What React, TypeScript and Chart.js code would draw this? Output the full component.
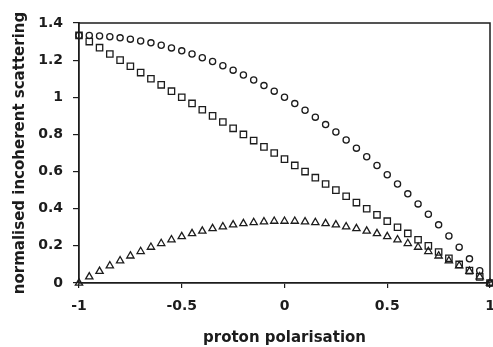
import React, { useEffect, useRef } from "react";
import { Chart, registerables } from "chart.js";

Chart.register(...registerables);

const xValues = [
  -1, -0.95, -0.9, -0.85, -0.8, -0.75, -0.7, -0.65, -0.6, -0.55, -0.5,
  -0.45, -0.4, -0.35, -0.3, -0.25, -0.2, -0.15, -0.1, -0.05, 0,
  0.05, 0.1, 0.15, 0.2, 0.25, 0.3, 0.35, 0.4, 0.45, 0.5,
  0.55, 0.6, 0.65, 0.7, 0.75, 0.8, 0.85, 0.9, 0.95, 1,
];

const circleValues = [
  1.333, 1.333, 1.33, 1.326, 1.32, 1.313, 1.303, 1.293, 1.28, 1.266, 1.25,
  1.233, 1.213, 1.193, 1.17, 1.146, 1.12, 1.093, 1.063, 1.033, 1.0,
  0.966, 0.93, 0.893, 0.853, 0.813, 0.77, 0.726, 0.68, 0.633, 0.583,
  0.533, 0.48, 0.426, 0.37, 0.313, 0.253, 0.193, 0.13, 0.066, 0.0,
];

const squareValues = [
  1.333, 1.3, 1.267, 1.233, 1.2, 1.167, 1.133, 1.1, 1.067, 1.033, 1.0,
  0.967, 0.933, 0.9, 0.867, 0.833, 0.8, 0.767, 0.733, 0.7, 0.667,
  0.633, 0.6, 0.567, 0.533, 0.5, 0.467, 0.433, 0.4, 0.367, 0.333,
  0.3, 0.267, 0.233, 0.2, 0.167, 0.133, 0.1, 0.067, 0.033, 0.0,
];

const triangleValues = [
  0.0, 0.033, 0.063, 0.093, 0.12, 0.146, 0.17, 0.193, 0.213, 0.233, 0.25,
  0.266, 0.28, 0.293, 0.303, 0.313, 0.32, 0.326, 0.33, 0.333, 0.333,
  0.333, 0.33, 0.326, 0.32, 0.313, 0.303, 0.293, 0.28, 0.266, 0.25,
  0.233, 0.213, 0.193, 0.17, 0.146, 0.12, 0.093, 0.063, 0.033, 0.0,
];

const xTickValues = [-1, -0.5, 0, 0.5, 1];
const xTickLabels = ["-1", "-0.5", "0", "0.5", "1"];
const yTickValues = [0, 0.2, 0.4, 0.6, 0.8, 1, 1.2, 1.4];
const yTickLabels = ["0", "0.2", "0.4", "0.6", "0.8", "1", "1.2", "1.4"];

const xTitle = "proton polarisation";
const yTitle = "normalised incoherent scattering";

const INK = "#1c1c1c";
const FONT = "'DejaVu Sans', sans-serif";

const framePlugin = {
  id: "frame",
  afterDatasetsDraw(chart: any) {
    const { ctx, chartArea } = chart;
    ctx.save();
    ctx.strokeStyle = INK;
    ctx.lineWidth = 1.5;
    ctx.beginPath();
    ctx.moveTo(chartArea.left, chartArea.top);
    ctx.lineTo(chartArea.right, chartArea.top);
    ctx.lineTo(chartArea.right, chartArea.bottom);
    ctx.stroke();
    ctx.restore();
  },
};

export default function App() {
  const canvasRef = useRef<HTMLCanvasElement | null>(null);

  useEffect(() => {
    if (!canvasRef.current) return;
    const toPts = (ys: number[]) => xValues.map((x, i) => ({ x, y: ys[i] }));
    const common = {
      showLine: false,
      clip: false,
      borderColor: INK,
      backgroundColor: "rgba(0,0,0,0)",
      borderWidth: 1.3,
      pointBorderColor: INK,
      pointBackgroundColor: "rgba(0,0,0,0)",
      pointBorderWidth: 1.3,
    };
    const chart = new Chart(canvasRef.current, {
      type: "scatter",
      data: {
        datasets: [
          { ...common, label: "circles", data: toPts(circleValues), pointStyle: "circle", pointRadius: 3.1 },
          { ...common, label: "squares", data: toPts(squareValues), pointStyle: "rect", pointRadius: 4.5 },
          { ...common, label: "triangles", data: toPts(triangleValues), pointStyle: "triangle", pointRadius: 4.2 },
        ],
      },
      options: {
        animation: false,
        responsive: false,
        layout: { padding: { top: 23, left: 0, right: 15, bottom: 0 } },
        plugins: { legend: { display: false }, tooltip: { enabled: false } },
        scales: {
          x: {
            type: "linear",
            min: -1,
            max: 1,
            afterBuildTicks: (scale: any) => {
              scale.ticks = xTickValues.map((v) => ({ value: v }));
            },
            afterFit: (scale: any) => {
              scale.height = 64;
              scale.paddingRight = 0;
              scale.paddingLeft = 0;
            },
            ticks: {
              color: INK,
              font: { family: FONT, size: 14, weight: "bold" },
              padding: 10,
              maxRotation: 0,
              callback: (v: any) => {
                const i = xTickValues.indexOf(Number(v));
                return i >= 0 ? xTickLabels[i] : "";
              },
            },
            grid: { drawOnChartArea: false, drawTicks: true, tickLength: 5, color: INK, lineWidth: 1.2 },
            border: { display: true, color: INK, width: 1.8 },
            title: {
              display: true,
              text: xTitle,
              color: INK,
              font: { family: FONT, size: 15, weight: "bold", lineHeight: 1.2 },
              padding: { top: 0, bottom: 0 },
            },
          },
          y: {
            type: "linear",
            min: 0,
            max: 1.4,
            afterBuildTicks: (scale: any) => {
              scale.ticks = yTickValues.map((v) => ({ value: v }));
            },
            afterFit: (scale: any) => {
              scale.width = 79;
            },
            ticks: {
              color: INK,
              font: { family: FONT, size: 14, weight: "bold" },
              padding: 10,
              callback: (v: any) => {
                const i = yTickValues.findIndex((t) => Math.abs(t - Number(v)) < 1e-9);
                return i >= 0 ? yTickLabels[i] : "";
              },
            },
            grid: { drawOnChartArea: false, drawTicks: true, tickLength: 6, color: INK, lineWidth: 1.2 },
            border: { display: true, color: INK, width: 1.8 },
            title: {
              display: true,
              text: yTitle,
              color: INK,
              font: { family: FONT, size: 15, weight: "bold", lineHeight: 1.2 },
              padding: { top: 11, bottom: 0 },
            },
          },
        },
      },
      plugins: [framePlugin],
    });
    return () => chart.destroy();
  }, []);

  return (
    <div style={{ position: "fixed", left: 0, top: 0, width: 493, height: 347, overflow: "hidden", background: "#fff" }}>
      <canvas ref={canvasRef} width={505} height={347} style={{ display: "block" }} />
    </div>
  );
}
